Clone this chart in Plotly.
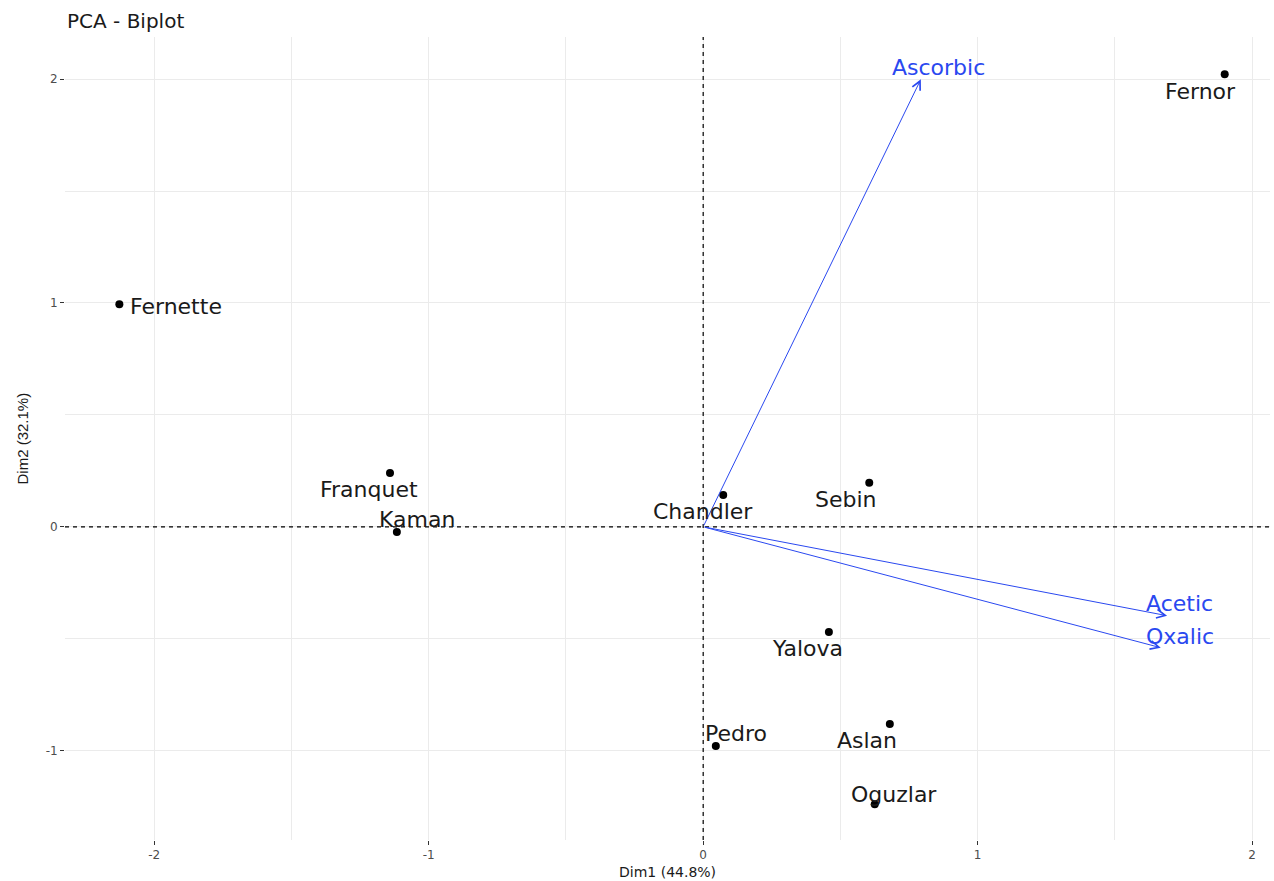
import plotly.graph_objects as go

# ---- data ----
ind_names = ["Fernor", "Fernette", "Franquet", "Kaman", "Chandler", "Sebin",
             "Yalova", "Pedro", "Aslan", "Oguzlar"]
ind_dim1 = [1.900, -2.127, -1.141, -1.116, 0.073, 0.605, 0.458, 0.046, 0.680, 0.625]
ind_dim2 = [2.022, 0.994, 0.240, -0.023, 0.142, 0.197, -0.470, -0.979, -0.881, -1.239]

var_names = ["Ascorbic", "Acetic", "Oxalic"]
var_dim1 = [0.793, 1.690, 1.667]
var_dim2 = [1.999, -0.397, -0.540]

x_ticks = [-2, -1, 0, 1, 2]
x_tick_labels = ["-2", "-1", "0", "1", "2"]
y_ticks = [-1, 0, 1, 2]
y_tick_labels = ["-1", "0", "1", "2"]
x_title = "Dim1 (44.8%)"
y_title = "Dim2 (32.1%)"
chart_title = "PCA - Biplot"

# ---- label offsets (pixels, label centre relative to mark) ----
ind_label_shift = {
    "Fernor": (-24, -17), "Fernette": (9, -2), "Franquet": (-21, -16),
    "Kaman": (20, 12), "Chandler": (-20, -16), "Sebin": (-23, -17),
    "Yalova": (-21, -16), "Pedro": (20, 12), "Aslan": (-23, -16),
    "Oguzlar": (19, 10),
}
ind_label_anchor = {"Fernette": "left"}
var_label_shift = {"Ascorbic": (18, 12), "Acetic": (12, 12), "Oxalic": (19, 11)}

LABEL_FONT = "DejaVu Sans"
VAR_COLOR = "#2a48f0"
GRID = "#ebebeb"

fig = go.Figure()

fig.add_trace(go.Scatter(
    x=ind_dim1, y=ind_dim2, mode="markers",
    marker=dict(color="black", size=8),
    showlegend=False, hoverinfo="text", text=ind_names,
))

annotations = []
# variable arrows
for name, vx, vy in zip(var_names, var_dim1, var_dim2):
    annotations.append(dict(
        x=vx, y=vy, ax=0, ay=0, xref="x", yref="y", axref="x", ayref="y",
        text="", showarrow=True, arrowhead=5, arrowsize=1.7, arrowwidth=1,
        arrowcolor=VAR_COLOR,
    ))
    dx, dy = var_label_shift[name]
    annotations.append(dict(
        x=vx, y=vy, xref="x", yref="y", text=name, showarrow=False,
        xshift=dx, yshift=dy, font=dict(family=LABEL_FONT, size=22, color=VAR_COLOR),
    ))

# individual labels
for name, px, py in zip(ind_names, ind_dim1, ind_dim2):
    dx, dy = ind_label_shift[name]
    annotations.append(dict(
        x=px, y=py, xref="x", yref="y", text=name, showarrow=False,
        xanchor=ind_label_anchor.get(name, "center"),
        xshift=dx, yshift=dy, font=dict(family=LABEL_FONT, size=22, color="#1a1a1a"),
    ))

# titles
annotations.append(dict(
    x=0, y=1, xref="paper", yref="paper", xanchor="left", yanchor="middle",
    xshift=0, yshift=16, text=chart_title, showarrow=False,
    font=dict(family=LABEL_FONT, size=20, color="#1a1a1a"),
))
annotations.append(dict(
    x=0.5, y=0, xref="paper", yref="paper", xanchor="center", yanchor="middle",
    yshift=-32, text=x_title, showarrow=False,
    font=dict(family=LABEL_FONT, size=14, color="#1a1a1a"),
))
annotations.append(dict(
    x=0, y=0.5, xref="paper", yref="paper", xanchor="center", yanchor="middle",
    xshift=-43, text=y_title, showarrow=False, textangle=-90,
    font=dict(family="Liberation Sans", size=15, color="#1a1a1a"),
))

shapes = [
    dict(type="line", xref="x", yref="paper", x0=0, x1=0, y0=0, y1=1,
         line=dict(color="black", width=1.2, dash="4px,4px")),
    dict(type="line", xref="paper", yref="y", x0=0, x1=1, y0=0, y1=0,
         line=dict(color="black", width=1.2, dash="4px,4px")),
]

axis_common = dict(
    showgrid=True, gridcolor=GRID, gridwidth=1.2, zeroline=False,
    showline=False, ticks="outside", ticklen=4, tickwidth=1, tickcolor="#333333",
    tickfont=dict(family=LABEL_FONT, size=12, color="#4d4d4d"),
)

fig.update_layout(
    width=1274, height=881,
    margin=dict(l=65, r=4, t=37, b=41),
    paper_bgcolor="white", plot_bgcolor="white",
    xaxis=dict(range=[-2.325, 2.065], tickvals=x_ticks, ticktext=x_tick_labels,
               minor=dict(dtick=0.5, tick0=0, showgrid=True, gridcolor=GRID, gridwidth=1),
               **axis_common),
    yaxis=dict(range=[-1.399, 2.188], tickvals=y_ticks, ticktext=y_tick_labels,
               minor=dict(dtick=0.5, tick0=0, showgrid=True, gridcolor=GRID, gridwidth=1),
               **axis_common),
    annotations=annotations,
    shapes=shapes,
    showlegend=False,
)

fig.write_html("out.html", config={"displayModeBar": False},
               post_script="document.body.style.margin='0px';")
